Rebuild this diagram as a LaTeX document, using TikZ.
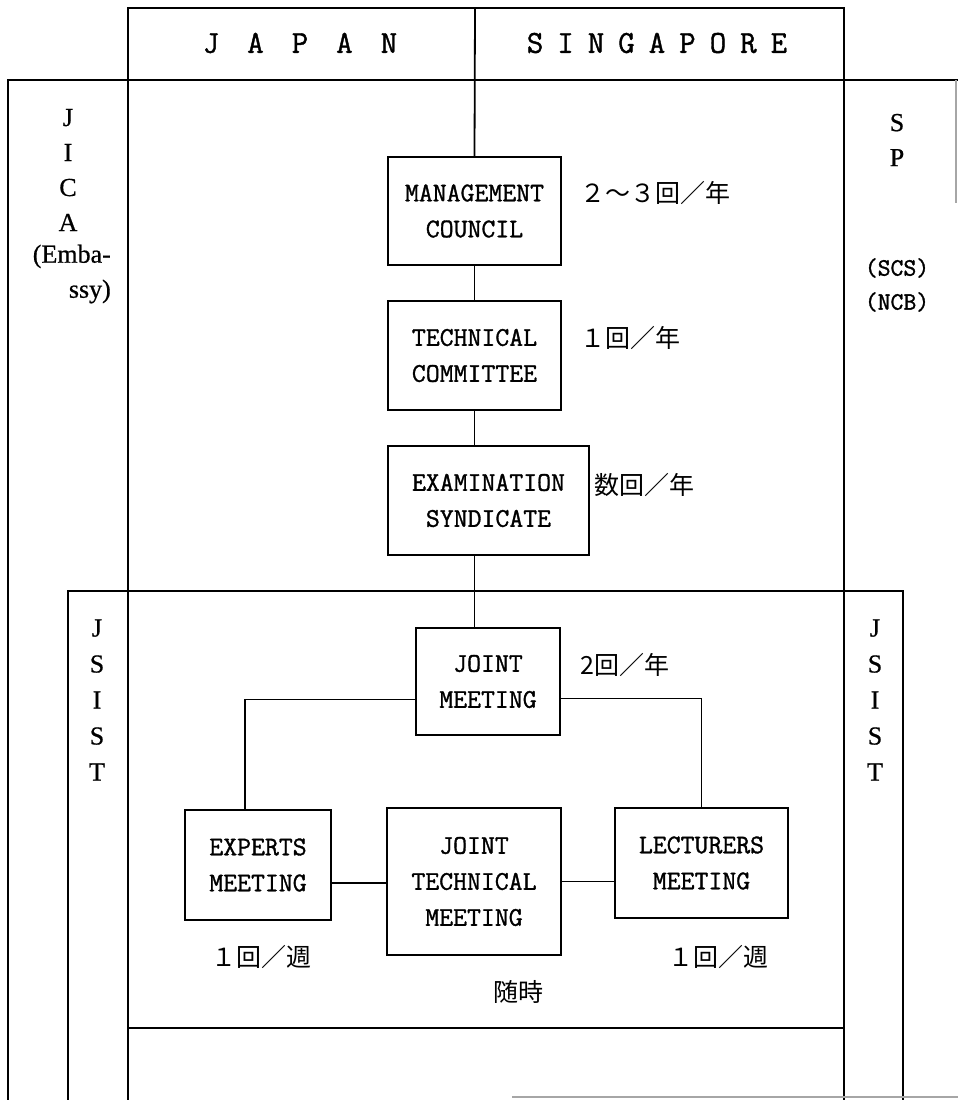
\documentclass[tikz,border=0pt]{standalone}
\usepackage{fontspec}
\newfontfamily\cjk{Noto Sans CJK JP}
\newfontfamily\srf[FakeBold=0.6]{Liberation Serif}
\newfontfamily\mono[FakeBold=1.2]{Latin Modern Mono}
\usetikzlibrary{calc}
\tikzset{
  ln/.style={line width=1.8pt},
  faint/.style={line width=1.2pt, black!35},
  box/.style={draw, line width=1.8pt, align=center, inner sep=0pt,
    font=\mono\fontsize{27}{36}\selectfont},
  lab/.style={font=\cjk\fontsize{25}{30}\selectfont, inner sep=0pt},
  side/.style={font=\srf\fontsize{26}{35}\selectfont, align=center, inner sep=0pt},
  sidett/.style={font=\mono\fontsize{25}{34}\selectfont, align=center, inner sep=0pt},
  head/.style={font=\mono\fontsize{32}{36}\selectfont, inner sep=0pt},
}
\begin{document}
\begin{tikzpicture}[x=1pt,y=-1pt]
\useasboundingbox (0,0) rectangle (958,1100);
\fill[white] (0,0) rectangle (958,1100);

% frame lines
\draw[ln] (128,8) rectangle (844,80);
\draw[ln] (8,1100) -- (8,80) -- (958,80);
\draw[ln] (128,80) -- (128,1100);
\draw[ln] (844,80) -- (844,1100);
\draw[ln] (68,1100) -- (68,591) -- (903,591) -- (903,1100);
\draw[ln] (128,1028) -- (844,1028);
\draw[faint] (512,1097) -- (958,1097);
\draw[faint] (956,80) -- (956,203);

% header
\node[head] (jp) at (300,43) {J\hspace{28pt}A\hspace{28pt}P\hspace{28pt}A\hspace{28pt}N};
\node[head] (sg) at (657,43) {S\hspace{14pt}I\hspace{14pt}N\hspace{14pt}G\hspace{14pt}A\hspace{14pt}P\hspace{14pt}O\hspace{14pt}R\hspace{14pt}E};

% side texts
\node[side] (jica) at (68,170) {J\\I\\C\\A};
\node[side, align=right, anchor=east] (emb) at (111,274) {(Emba-\\ssy)};
\node[side] (sp) at (897,140) {S\\P};
\node[sidett] (scs) at (897,285) {(SCS)\\(NCB)};
\node[side, font=\srf\fontsize{26}{36}\selectfont] (jsl) at (97,700) {J\\S\\I\\S\\T};
\node[side, font=\srf\fontsize{26}{36}\selectfont] (jsr) at (875,700) {J\\S\\I\\S\\T};

% boxes
\node[box, minimum width=173pt, minimum height=108pt] (MC) at (474.5,211) {MANAGEMENT\\COUNCIL};
\node[box, minimum width=173pt, minimum height=109pt] (TC) at (474.5,355.5) {TECHNICAL\\COMMITTEE};
\node[box, minimum width=201pt, minimum height=109pt] (EX) at (488.5,500.5) {EXAMINATION\\SYNDICATE};
\node[box, minimum width=144pt, minimum height=107pt] (JM) at (488,681.5) {JOINT\\MEETING};
\node[box, minimum width=146pt, minimum height=110pt] (EXP) at (258,865) {EXPERTS\\MEETING};
\node[box, minimum width=174pt, minimum height=147pt] (JTM) at (474,881.5) {JOINT\\TECHNICAL\\MEETING};
\node[box, minimum width=173pt, minimum height=110pt] (LEC) at (701.5,863) {LECTURERS\\MEETING};

% labels
\node[lab, anchor=west] (l1) at (580,193) {２～３回／年};
\node[lab, anchor=west] (l2) at (580,338) {１回／年};
\node[lab, anchor=west] (l3) at (594,485) {数回／年};
\node[lab, anchor=west] (l4) at (580,665) {2回／年};
\node[lab] (l5) at (261,957) {１回／週};
\node[lab] (l6) at (718,957) {１回／週};
\node[lab] (l7) at (518,992) {随時};

% connectors
\coordinate (divtop) at (475,8);
\coordinate (lx) at (245,0);
\draw[ln] (divtop) -- (MC.north);
\draw[ln] (MC.south) -- (TC.north);
\draw[ln] (TC.south) -- (EX.north -| TC.south);
\draw[ln] (EX.south -| TC.south) -- (JM.north -| TC.south);
\draw[ln] ([yshift=-18pt]JM.west) -| (EXP.north -| lx);
\draw[ln] ([yshift=-17pt]JM.east) -| (LEC.north);
\draw[ln] ([yshift=-18pt]EXP.east) -- ([yshift=-18pt]EXP.east -| JTM.west);
\draw[ln] (JTM.east) -- (JTM.east -| LEC.west);
\end{tikzpicture}
\end{document}
